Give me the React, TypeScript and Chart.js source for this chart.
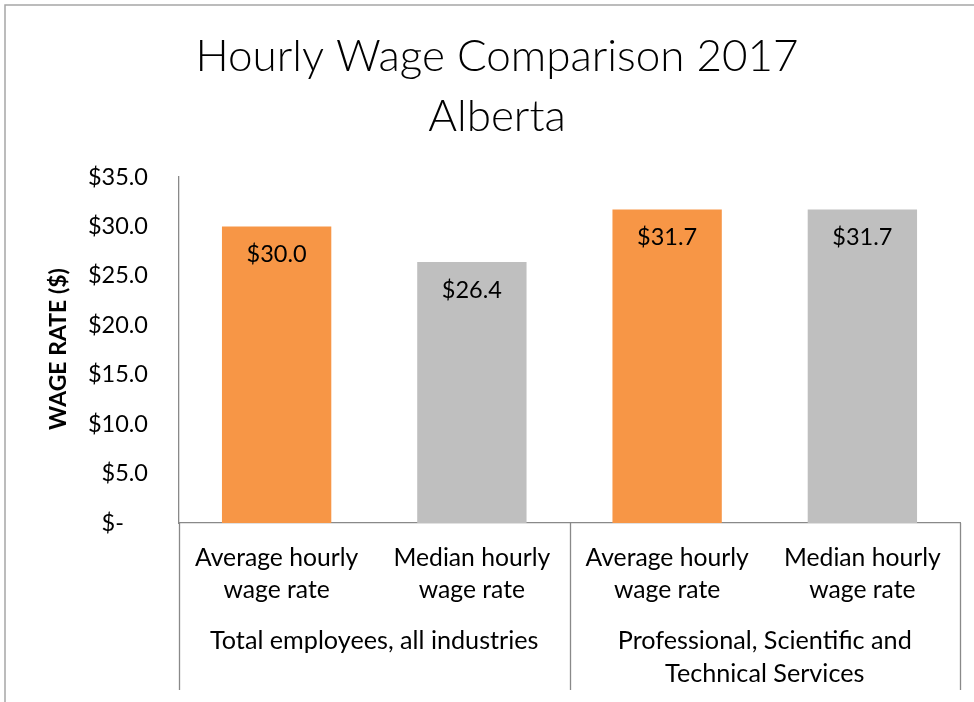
import React, { useEffect, useRef } from "react";
import { Chart, registerables } from "chart.js";

Chart.register(...registerables);

const titleLines = ["Hourly Wage Comparison 2017", "Alberta"];
const yAxisTitle = "WAGE RATE ($)";
const categories = [
  ["Average hourly", "wage rate"],
  ["Median hourly", "wage rate"],
  ["Average hourly", "wage rate"],
  ["Median hourly", "wage rate"],
];
const groups = [
  ["Total employees, all industries"],
  ["Professional, Scientific and", "Technical Services"],
];
const groupSizes = [2, 2];
const values = [30.0, 26.4, 31.7, 31.7];
const barColors = ["#F79646", "#BFBFBF", "#F79646", "#BFBFBF"];
const yMin = 0;
const yMax = 35;
const yStep = 5;

const FONT = "Lato, 'Open Sans', sans-serif";
const AXIS = "#898989";

const overlay = {
  id: "overlay",
  afterDraw(chart: any) {
    const ctx = chart.ctx as CanvasRenderingContext2D;
    const x = chart.scales.x;
    const area = chart.chartArea;
    ctx.save();
    // frame
    ctx.strokeStyle = "#a6a6a6";
    ctx.lineWidth = 1.5;
    ctx.strokeRect(5, 5, chart.width + 20, chart.height + 20);

    // title
    ctx.fillStyle = "#000";
    ctx.textAlign = "center";
    ctx.textBaseline = "middle";
    ctx.font = `300 44px ${FONT}`;
    titleLines.forEach((t, i) => ctx.fillText(t, 497, 57 + i * 60));

    // y-axis title
    ctx.save();
    ctx.translate(59, 349);
    ctx.rotate(-Math.PI / 2);
    ctx.font = `bold 23px ${FONT}`;
    ctx.fillText(yAxisTitle, 0, 0);
    ctx.restore();

    // category labels
    ctx.font = `24.7px ${FONT}`;
    categories.forEach((lines, i) => {
      const cx = x.getPixelForValue(i);
      lines.forEach((l, j) => ctx.fillText(l, cx, 558 + j * 32));
    });

    // separators & group labels
    const catW = (area.right - area.left) / categories.length;
    ctx.strokeStyle = AXIS;
    ctx.lineWidth = 1.3;
    let start = 0;
    const bounds: number[] = [0];
    groupSizes.forEach((s) => {
      start += s;
      bounds.push(start);
    });
    bounds.forEach((b) => {
      const px = Math.round(area.left + b * catW) + 0.5;
      ctx.beginPath();
      ctx.moveTo(px, area.bottom);
      ctx.lineTo(px, 690);
      ctx.stroke();
    });
    ctx.font = `25.2px ${FONT}`;
    groups.forEach((lines, g) => {
      const cx = area.left + ((bounds[g] + bounds[g + 1]) / 2) * catW;
      lines.forEach((l, j) => ctx.fillText(l, cx, 641 + j * 33));
    });

    // data labels
    ctx.font = `23.5px ${FONT}`;
    const meta = chart.getDatasetMeta(0);
    meta.data.forEach((bar: any, i: number) => {
      ctx.fillText("$" + values[i].toFixed(1), bar.x, bar.y + 28);
    });
    ctx.restore();
  },
};

export default function App() {
  const ref = useRef<HTMLCanvasElement>(null);
  useEffect(() => {
    document.body.style.margin = "0";
    const chart = new Chart(ref.current!, {
      type: "bar",
      data: {
        labels: categories.map((c) => c.join(" ")),
        datasets: [
          {
            data: values,
            backgroundColor: barColors,
            categoryPercentage: 1,
            barPercentage: 0.56,
          },
        ],
      },
      options: {
        responsive: false,
        animation: false,
        devicePixelRatio: 1,
        layout: { padding: { top: 177, right: 14, left: 0, bottom: 0 } },
        plugins: { legend: { display: false }, tooltip: { enabled: false }, title: { display: false } },
        scales: {
          x: {
            grid: { display: false, drawTicks: false },
            border: { display: true, color: AXIS, width: 1.3 },
            ticks: { display: false },
            afterFit: (s: any) => {
              s.height = 179;
            },
          },
          y: {
            min: yMin,
            max: yMax,
            grid: { display: false, drawTicks: false },
            border: { display: true, color: AXIS, width: 1.3 },
            ticks: {
              stepSize: yStep,
              padding: 31,
              color: "#000",
              font: { family: FONT, size: 23.5 },
              callback: (v: any) => (Number(v) === 0 ? "$-    " : "$" + Number(v).toFixed(1)),
            },
            afterFit: (s: any) => {
              s.width = 179;
            },
          },
        },
      },
      plugins: [overlay],
    });
    return () => chart.destroy();
  }, []);
  return (
    <div style={{ width: 974, height: 702, background: "#fff" }}>
      <canvas ref={ref} width={974} height={702} style={{ display: "block" }} />
    </div>
  );
}
